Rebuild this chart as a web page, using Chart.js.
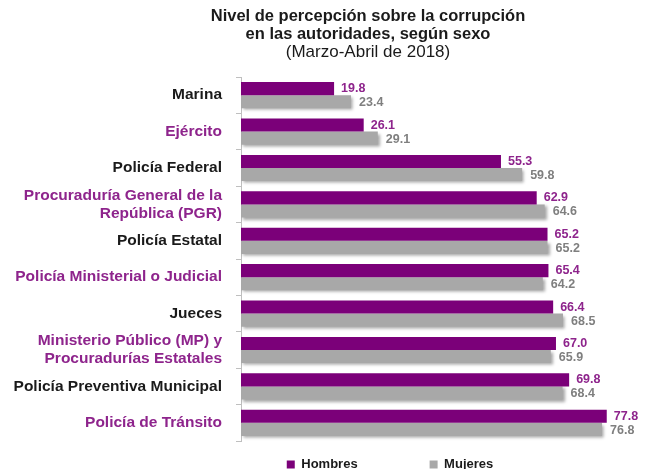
<!DOCTYPE html>
<html>
<head>
<meta charset="utf-8">
<script src="https://cdn.jsdelivr.net/npm/chart.js@4"></script>
<style>
  html, body { margin: 0; padding: 0; background: #fff; }
  #wrap { width: 650px; height: 469px; }
</style>
</head>
<body>
<div id="wrap"><canvas id="barCanvas"></canvas></div>
<script>
const categories = [
    'Marina',
    'Ejército',
    'Policía Federal',
    ['Procuraduría General de la', 'República (PGR)'],
    'Policía Estatal',
    'Policía Ministerial o Judicial',
    'Jueces',
    ['Ministerio Público (MP) y', 'Procuradurías Estatales'],
    'Policía Preventiva Municipal',
    'Policía de Tránsito'
];
const hombres = [19.8, 26.1, 55.3, 62.9, 65.2, 65.4, 66.4, 67.0, 69.8, 77.8];
const mujeres = [23.4, 29.1, 59.8, 64.6, 65.2, 64.2, 68.5, 65.9, 68.4, 76.8];
const labelColors = ['#1a1a1a', '#8e248c', '#1a1a1a', '#8e248c', '#1a1a1a', '#8e248c', '#1a1a1a', '#8e248c', '#1a1a1a', '#8e248c'];

const FONT = 'Arial, "Liberation Sans", sans-serif';

// value labels at the end of each bar
const valueLabels = {
    id: 'valueLabels',
    afterDatasetsDraw(chart) {
        const ctx = chart.ctx;
        ctx.save();
        ctx.font = 'bold 12.5px ' + FONT;
        ctx.textBaseline = 'middle';
        ctx.textAlign = 'left';
        chart.data.datasets.forEach((ds, i) => {
            const meta = chart.getDatasetMeta(i);
            ctx.fillStyle = ds.valueColor;
            meta.data.forEach((bar, j) => {
                ctx.fillText(ds.data[j].toFixed(1), bar.x + (i === 0 ? 7 : 8), bar.y + (i === 0 ? 0 : 1));
            });
        });
        ctx.restore();
    }
};

// soft shadow under the grey bars
const barShadow = {
    id: 'barShadow',
    beforeDatasetDraw(chart, args) {
        if (args.index !== 1) return;
        const ctx = chart.ctx;
        ctx.save();
        ctx.shadowColor = 'rgba(0,0,0,0.35)';
        ctx.shadowBlur = 3;
        ctx.shadowOffsetX = 2;
        ctx.shadowOffsetY = 2;
    },
    afterDatasetDraw(chart, args) {
        if (args.index !== 1) return;
        chart.ctx.restore();
    }
};

// titles and legend sit right of centre in the original;
// legend keeps a wide gap between items but a short box
const placeBoxes = {
    id: 'placeBoxes',
    afterInit(chart) {
        const legend = chart.legend;
        const fit = legend.fit;
        legend.fit = function () {
            fit.call(this);
            this.height = 28;
        };
    },
    afterLayout(chart) {
        chart.boxes.forEach(box => {
            if (box.position === 'top') {
                box.left += 43;
                box.right += 43;
            }
        });
        const legend = chart.legend;
        legend.top = chart.chartArea.bottom - 55;
        legend.left += 65;
        legend.right += 65;
    }
};

const barCanvas = document.getElementById('barCanvas');

const barChart = new Chart(barCanvas, {
    type: 'bar',
    data: {
        labels: categories,
        datasets: [
            {
                label: 'Hombres',
                data: hombres,
                backgroundColor: '#7b0079',
                valueColor: '#8e248c',
                categoryPercentage: 0.72,
                barPercentage: 1.0
            },
            {
                label: 'Mujeres',
                data: mujeres,
                backgroundColor: '#a8a8a8',
                valueColor: '#7f7f7f',
                categoryPercentage: 0.72,
                barPercentage: 1.0
            }
        ]
    },
    options: {
        indexAxis: 'y',
        responsive: true,
        maintainAspectRatio: false,
        animation: false,
        layout: { padding: { left: 0, right: 0, top: 7, bottom: 0 } },
        scales: {
            x: {
                display: false,
                min: 0,
                max: 87
            },
            y: {
                afterFit(scale) { scale.width = 241; },
                border: { display: true, color: '#bfbfbf', width: 1 },
                grid: { display: true, drawOnChartArea: false, tickLength: 5, color: '#bfbfbf', offset: true },
                ticks: {
                    autoSkip: false,
                    padding: 14,
                    font: { family: FONT, size: 15.5, weight: 'bold', lineHeight: 1.15 },
                    color: ctx => labelColors[ctx.index]
                }
            }
        },
        plugins: {
            title: {
                display: true,
                text: ['Nivel de percepción sobre la corrupción', 'en las autoridades, según sexo'],
                color: '#1a1a1a',
                font: { family: FONT, size: 16.5, weight: 'bold', lineHeight: 1.1 },
                padding: { top: 0, bottom: 0 }
            },
            subtitle: {
                display: true,
                text: '(Marzo-Abril de 2018)',
                color: '#1a1a1a',
                font: { family: FONT, size: 17, weight: 'normal', lineHeight: 1.1 },
                padding: { top: 0, bottom: 15 }
            },
            legend: {
                position: 'bottom',
                labels: {
                    boxWidth: 8,
                    boxHeight: 8,
                    padding: 72,
                    color: '#1a1a1a',
                    font: { family: FONT, size: 13, weight: 'bold' }
                }
            },
            tooltip: { enabled: false }
        }
    },
    plugins: [barShadow, valueLabels, placeBoxes]
});
</script>
</body>
</html>
